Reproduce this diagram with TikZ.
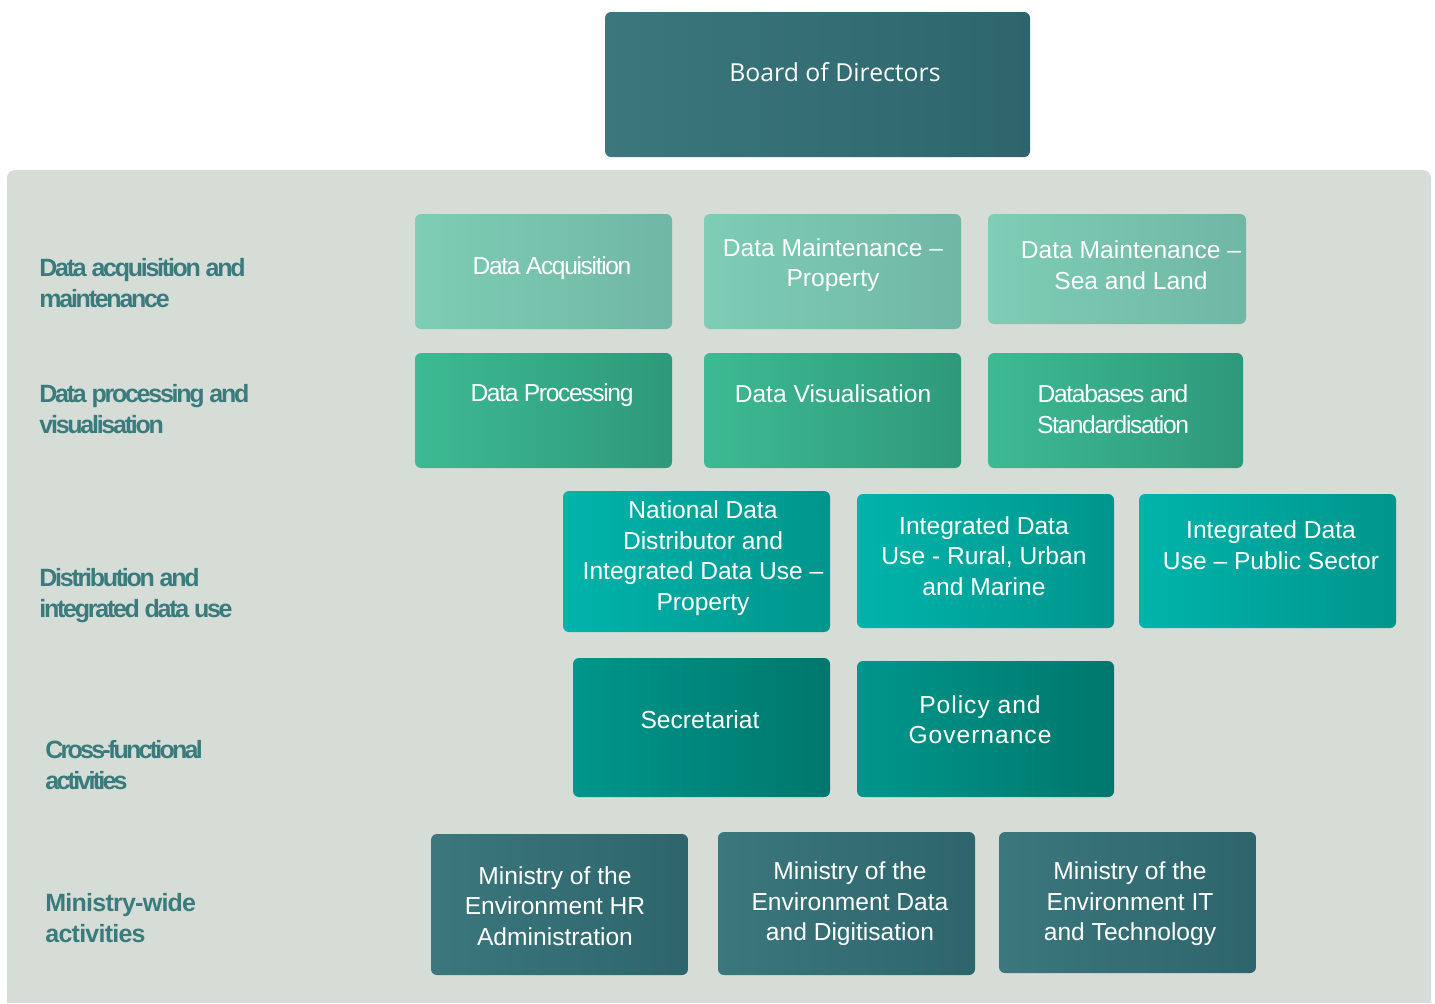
\documentclass[tikz,border=0pt]{standalone}
\usepackage{fontspec}
\setmainfont{Liberation Sans}
\newfontfamily\tightfont{Liberation Sans}[LetterSpace=-5.5]
\newfontfamily\airyfont{Liberation Sans}[LetterSpace=4]
\newfontfamily\boardfont{Open Sans}
\newfontfamily\lblfont{Liberation Sans}[LetterSpace=-9]
\newfontfamily\lblcrossfont{Liberation Sans}[LetterSpace=-11]
\newfontfamily\lblwidefont{Liberation Sans}[LetterSpace=-3]

\definecolor{panelbg}{HTML}{D6DDD6}
\definecolor{lbltext}{HTML}{3A7B7E}
\definecolor{slateL}{HTML}{3B777D}
\definecolor{slateR}{HTML}{2E656C}
\definecolor{mintL}{HTML}{7ECDB5}
\definecolor{mintR}{HTML}{70B7A5}
\definecolor{greenL}{HTML}{3DBA93}
\definecolor{greenR}{HTML}{2E997A}
\definecolor{tealL}{HTML}{00B4AB}
\definecolor{tealR}{HTML}{00958C}
\definecolor{deepL}{HTML}{00968B}
\definecolor{deepR}{HTML}{00776C}

\tikzset{
  unitbox/.style={rectangle, rounded corners=3pt, inner sep=0pt, outer sep=0pt},
  slatebox/.style={unitbox, left color=slateL, right color=slateR},
  mintbox/.style={unitbox, left color=mintL, right color=mintR},
  greenbox/.style={unitbox, left color=greenL, right color=greenR},
  tealbox/.style={unitbox, left color=tealL, right color=tealR},
  deepbox/.style={unitbox, left color=deepL, right color=deepR},
  boxtext/.style={text=white, align=center, inner sep=0pt, yshift=-1pt,
    font=\fontsize{12.3}{15.25}\selectfont},
  rowlabel/.style={text=lbltext, align=left, anchor=west, inner sep=0pt, yshift=-0.75pt,
    font=\fontsize{12.5}{15.5}\selectfont\bfseries},
}

% box from corner (x1,y1) to corner (x2,y2), in pixel-sized units
\newcommand\unitnode[6]{%
  \node[#6, minimum width={(#4-#2)*0.5pt}, minimum height={(#5-#3)*0.5pt}]
    (#1) at ({(#2+#4)/2},{(#3+#5)/2}) {};}

\begin{document}
\begin{tikzpicture}[x=0.5pt, y=-0.5pt]
\useasboundingbox (0,0) rectangle (1435,1003);

% grey panel holding the five rows of units
\fill[panelbg] (7,1003) [rounded corners=4pt] -- (7,170) -- (1431,170)
  [sharp corners] -- (1431,1003) -- cycle;

% board
\unitnode{board}{605}{12}{1030}{157}{slatebox}
\node[boxtext, font=\boardfont\fontsize{12.4}{15}\selectfont] (board-t) at (835,70) {Board of Directors};

% row 1: data acquisition and maintenance
\unitnode{acq}{415}{214}{672}{329}{mintbox}
\unitnode{prop}{704}{214}{961}{329}{mintbox}
\unitnode{sea}{988}{214}{1246}{324}{mintbox}
\node[boxtext, font=\tightfont\fontsize{12.3}{15.25}\selectfont] (acq-t) at (552,266) {Data Acquisition};
\node[boxtext] (prop-t) at (833,263) {Data Maintenance --\\Property};
\node[boxtext] (sea-t) at (1131,263) {Data Maintenance --\\Sea and Land};

% row 2: data processing and visualisation
\unitnode{proc}{415}{353}{672}{468}{greenbox}
\unitnode{vis}{704}{353}{961}{468}{greenbox}
\unitnode{dbs}{988}{353}{1243}{468}{greenbox}
\node[boxtext, font=\tightfont\fontsize{12.3}{15.25}\selectfont] (proc-t) at (552,393) {Data Processing};
\node[boxtext] (vis-t) at (833,392) {Data Visualisation};
\node[boxtext, font=\tightfont\fontsize{12.3}{15.25}\selectfont] (dbs-t) at (1113,407) {Databases and\\Standardisation};

% row 3: distribution and integrated data use
\unitnode{nat}{563}{491}{830}{632}{tealbox}
\unitnode{rural}{857}{494}{1114}{628}{tealbox}
\unitnode{pub}{1139}{494}{1396}{628}{tealbox}
\node[boxtext] (nat-t) at (703,556) {National Data\\Distributor and\\Integrated Data Use --\\Property};
\node[boxtext] (rural-t) at (984,554) {Integrated Data\\Use - Rural, Urban\\and Marine};
\node[boxtext] (pub-t) at (1271,543) {Integrated Data\\Use -- Public Sector};

% row 4: cross-functional activities
\unitnode{sec}{573}{658}{830}{797}{deepbox}
\unitnode{pol}{857}{661}{1114}{797}{deepbox}
\node[boxtext] (sec-t) at (700,718) {Secretariat};
\node[boxtext, font=\airyfont\fontsize{12.3}{15}\selectfont] (pol-t) at (980,718) {Policy and\\Governance};

% row 5: ministry-wide activities
\unitnode{hr}{431}{834}{688}{975}{slatebox}
\unitnode{dig}{718}{832}{975}{975}{slatebox}
\unitnode{it}{999}{832}{1256}{973}{slatebox}
\node[boxtext] (hr-t) at (555,904) {Ministry of the\\Environment HR\\Administration};
\node[boxtext] (dig-t) at (850,902) {Ministry of the\\Environment Data\\and Digitisation};
\node[boxtext] (it-t) at (1130,902) {Ministry of the\\Environment IT\\and Technology};

% row labels
\node[rowlabel, font=\lblfont\fontsize{12.5}{15.5}\selectfont\bfseries] (lbl1) at (39,281.5) {Data acquisition and\\maintenance};
\node[rowlabel, font=\lblfont\fontsize{12.5}{15.5}\selectfont\bfseries] (lbl2) at (39,407.5) {Data processing and\\visualisation};
\node[rowlabel, font=\lblfont\fontsize{12.5}{15.5}\selectfont\bfseries] (lbl3) at (39,594.5) {Distribution and\\integrated data use};
\node[rowlabel, font=\lblcrossfont\fontsize{12.5}{15.5}\selectfont\bfseries] (lbl4) at (45,763.5) {Cross-functional\\activities};
\node[rowlabel, font=\lblwidefont\fontsize{12.5}{15.5}\selectfont\bfseries] (lbl5) at (45,916.5) {Ministry-wide\\activities};
\end{tikzpicture}
\end{document}
